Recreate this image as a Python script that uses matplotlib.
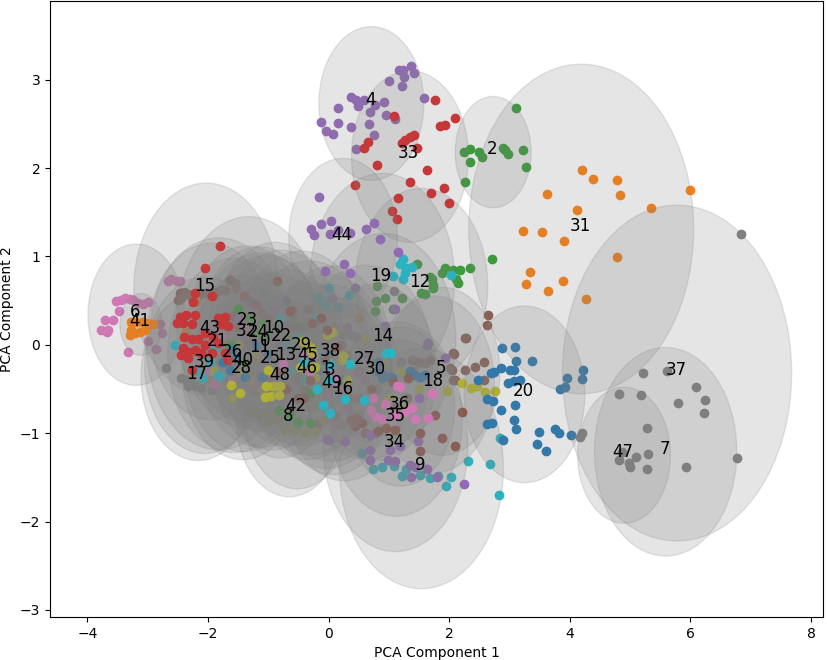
import matplotlib
matplotlib.use("Agg")
import matplotlib.pyplot as plt
from matplotlib.patches import Ellipse

# ---- cluster points (PCA component 1, PCA component 2) ----
P0 = [(-1.5,0.3),(-1.2,0.45),(-0.8,0.3),(-0.6,-0.1),(-1.3,-0.3),(-1.0,-0.2),(-0.9,0.1),(-1.4,0.0),(-0.7,0.25),(-1.1,-0.45)]
P1 = [(-0.5,0.1),(0.3,-0.1),(0.4,-0.6),(-0.3,-0.7),(0.1,0.2),(-0.2,-0.4),(0.2,-0.9),(-0.6,-0.3),(0.5,0.3),(0.0,-0.5)]
P2 = [(3.11,2.68),(2.24,2.18),(2.35,2.21),(2.49,2.18),(2.54,2.13),(2.35,2.07),(2.26,1.84),(2.90,2.23),(2.93,2.20),(2.97,2.16),(3.23,2.20),(3.27,2.01)]
P3 = [(-0.34,0.40),(-0.23,0.26),(0.3,-0.2),(0.5,-0.6),(-0.2,-0.9),(0.6,-1.0),(-0.1,-0.5),(0.2,0.0),(0.1,-0.8),(-0.5,-0.3)]
P4 = [(1.37,3.15),(1.16,3.11),(1.24,3.11),(1.42,3.07),(1.25,3.03),(1.00,2.98),(1.22,2.93),(1.58,2.79),(0.38,2.80),(0.46,2.77),(0.59,2.77),(0.92,2.75),(0.77,2.71),(0.48,2.70),(0.16,2.68),(0.69,2.63),(0.95,2.60),(1.11,2.56),(0.67,2.50),(0.16,2.51),(-0.12,2.52),(-0.05,2.42),(0.07,2.38),(0.37,2.46),(0.76,2.37),(0.45,2.22)]
P5 = [(2.07,-0.09),(2.26,0.08),(2.26,-0.28),(2.43,-0.25),(2.02,-0.26),(2.10,-0.40),(1.60,-0.21),(1.68,-0.17),(2.65,0.34),(2.63,0.22),(2.28,0.08),(1.38,-0.17),(1.49,-0.19),(2.08,-0.10),(2.57,-0.20),(2.04,-0.29),(2.07,-0.40),(2.57,-0.40),(1.30,-0.60),(1.10,-0.70)]
P6 = [(-2.67,0.72),(-2.61,0.74),(-2.52,0.72),(-2.47,0.72),(-3.53,0.49),(-3.45,0.51),(-3.38,0.53),(-3.30,0.52),(-3.25,0.51),(-3.16,0.47),(-3.08,0.46),(-3.00,0.48),(-3.48,0.38),(-3.71,0.28),(-3.57,0.28),(-3.77,0.17),(-3.68,0.15),(-3.66,0.17),(-3.32,-0.08),(-2.99,0.04),(-2.87,-0.05),(-2.76,0.13),(-2.79,0.23)]
P7 = [(5.28,-0.94),(5.30,-1.24),(5.28,-1.40),(5.93,-1.38),(6.78,-1.28),(4.99,-1.34)]
P8 = [(-1.28,-0.77),(-1.17,-0.79),(-0.95,-0.81),(-0.86,-0.85),(-0.75,-0.91),(-0.70,-0.96),(-0.56,-0.96),(-0.39,-1.00),(-0.23,-0.98),(-1.11,-0.76),(-1.00,-0.89),(-0.5,-0.6),(-0.2,-0.7),(-0.1,-0.85)]
P9 = [(0.55,-1.22),(0.74,-1.40),(0.88,-1.38),(1.09,-1.37),(1.21,-1.49),(1.29,-1.41),(1.52,-1.47),(1.68,-1.51),(1.82,-1.49),(1.95,-1.60),(2.03,-1.50),(2.32,-1.32),(2.68,-1.35),(2.82,-1.70),(2.84,-1.06)]
P10 = [(-1.3,0.5),(-0.7,0.5),(-0.5,0.2),(-1.2,0.1),(-0.9,-0.2),(-0.6,-0.1),(-1.1,0.35),(-0.8,0.0)]
P11 = [(-1.5,0.2),(-0.8,0.3),(-1.3,-0.4),(-0.7,-0.3),(-1.6,-0.2),(-1.0,0.1),(-1.2,-0.2),(-0.9,-0.1)]
P12 = [(1.88,0.81),(1.93,0.87),(2.07,0.85),(2.18,0.85),(2.34,0.87),(2.12,0.74),(2.15,0.70),(1.71,0.74),(1.74,0.68),(1.74,0.64),(1.54,0.59),(1.60,0.58),(1.46,0.91),(1.68,0.77),(2.71,0.97),(0.80,0.66),(0.93,0.53),(1.07,0.40),(0.78,0.49),(0.77,0.38),(1.21,0.53)]
P13 = [(-0.61,0.39),(-1.0,-0.4),(-0.4,-0.5),(-0.9,0.1),(-0.3,0.0),(-0.8,-0.6),(-0.5,-0.2),(-0.9,-0.1)]
P14 = [(0.93,0.21),(1.63,0.0),(1.65,0.02),(1.93,-0.15),(0.05,0.53),(0.44,0.64),(0.5,-0.3),(0.3,0.2),(1.2,-0.2),(0.6,-0.1),(1.1,0.4)]
P15 = [(-2.47,0.59),(-2.39,0.60),(-2.33,0.57),(-2.44,0.53),(-2.50,0.51),(-2.27,0.53),(-2.16,0.55),(-2.05,0.59),(-1.97,0.57),(-1.86,0.60),(-1.78,0.62),(-1.72,0.62),(-1.64,0.73),(-1.56,0.70),(-1.53,0.64)]
P16 = [(-0.02,-0.57),(0.08,-0.49),(0.49,-0.32),(0.74,-0.59),(-0.28,-0.14),(0.4,-0.8),(0.1,-0.9),(0.6,-0.4),(0.2,-0.5),(0.3,-0.7)]
P17 = [(-2.69,-0.26),(-2.44,-0.38),(-2.36,-0.40),(-2.27,-0.43),(-2.22,-0.47),(-2.11,-0.49),(-1.94,-0.51),(-2.33,-0.47),(-1.8,-0.2),(-2.0,-0.05),(-1.7,-0.4)]
P18 = [(1.96,-0.52),(2.21,-0.43),(2.37,-0.49),(2.46,-0.47),(2.59,-0.53),(2.76,-0.52),(0.58,0.06),(1.2,-0.3),(1.0,-0.6),(1.5,-0.5),(1.3,-0.7),(0.9,-0.2)]
P19 = [(1.24,0.97),(1.18,0.91),(1.29,0.87),(1.38,0.88),(1.27,0.81),(1.24,0.74),(1.07,0.78),(2.03,0.79),(0.00,0.64),(-0.17,0.53),(-0.06,0.45),(0.16,0.43),(0.34,0.56)]
P20 = [(2.87,-0.04),(3.09,-0.03),(3.11,-0.18),(3.37,-0.18),(2.69,-0.32),(2.75,-0.31),(2.86,-0.26),(3.01,-0.28),(3.07,-0.29),(2.98,-0.43),(3.07,-0.41),(3.18,-0.40),(2.62,-0.61),(2.73,-0.64),(2.86,-0.74),(3.09,-0.68),(3.08,-0.85),(3.11,-0.95),(2.62,-0.90),(2.71,-0.89),(2.90,-1.08),(3.49,-0.99),(3.46,-1.12),(3.61,-1.20),(3.76,-0.95),(3.82,-1.00),(4.02,-1.02),(3.84,-0.50),(3.92,-0.48),(3.95,-0.38),(4.22,-0.29),(4.20,-0.39),(2.48,-0.40)]
P21 = [(-2.36,0.14),(-2.2,0.5),(-1.5,0.3),(-1.3,-0.3),(-2.0,-0.4),(-1.6,0.0),(-2.3,-0.1),(-1.4,0.1)]
P22 = [(-1.00,0.21),(-0.89,0.19),(-0.6,0.3),(-0.5,-0.1),(-0.9,-0.2),(-0.7,0.1),(-0.4,0.2),(-1.1,-0.1)]
P23 = [(-1.39,0.30),(-1.42,0.19),(-1.50,0.21),(-1.58,0.33),(-1.2,0.45),(-1.1,0.2),(-1.3,0.0),(-1.0,0.3),(-1.4,0.55),(-1.3,0.05)]
P24 = [(-1.5,0.3),(-0.9,0.4),(-1.3,-0.1),(-0.8,0.0),(-1.2,0.2),(-1.0,-0.2),(-1.4,0.1),(-1.1,0.2)]
P25 = [(-1.3,0.1),(-0.6,0.2),(-1.2,-0.5),(-0.5,-0.4),(-1.0,-0.1),(-0.8,-0.3),(-1.1,0.0),(-1.0,-0.5),(-1.11,0.36),(-0.86,0.72)]
P26 = [(-1.22,-0.47),(-1.9,-0.44),(-1.8,0.1),(-2.0,-0.3),(-1.4,0.2),(-1.6,-0.4),(-1.5,0.0),(-1.1,-0.1)]
P27 = [(0.24,0.11),(0.38,0.11),(0.46,0.09),(1.08,0.61),(1.2,-0.2),(1.4,-0.3),(0.2,-0.6),(0.5,-0.8),(0.8,-0.5),(-0.1,-0.5),(0.7,-0.2)]
P28 = [(-1.9,-0.3),(-1.2,-0.1),(-1.5,0.0),(-1.3,-0.4),(-1.45,-0.32),(-1.6,-0.6),(-1.1,-0.5)]
P29 = [(-0.8,0.3),(-0.2,0.3),(-0.6,-0.3),(-0.1,-0.2),(-0.5,0.1),(-0.4,-0.4),(-0.7,0.0),(-0.2,-0.1)]
P30 = [(1.35,-0.30),(1.41,-0.34),(1.60,-0.34),(0.88,-0.38),(1.05,-0.38),(0.80,-0.30),(0.91,-0.34),(1.02,-0.37),(1.52,-0.36),(0.82,-0.20),(0.0,-0.1),(0.2,-0.4),(-0.2,-0.3),(0.3,-0.2)]
P31 = [(4.20,1.98),(4.39,1.88),(4.79,1.86),(4.83,1.69),(6.00,1.75),(5.35,1.55),(3.62,1.71),(4.12,1.52),(3.22,1.29),(3.54,1.28),(3.91,1.17),(4.79,0.99),(3.34,0.82),(3.27,0.69),(3.64,0.61),(3.89,0.72),(4.27,0.52)]
P32 = [(-1.11,0.25),(-1.17,0.15),(-1.06,0.09),(-1.5,0.4),(-1.6,0.0),(-1.4,-0.2),(-1.3,0.3),(-1.65,0.0)]
P33 = [(1.76,2.77),(2.10,2.57),(1.85,2.47),(1.93,2.49),(1.08,2.59),(1.42,2.37),(1.35,2.35),(1.27,2.32),(1.21,2.28),(1.46,2.23),(0.65,2.30),(0.59,2.23),(0.81,2.03),(1.64,1.98),(0.44,1.81),(1.35,1.84),(1.70,1.72),(1.91,1.77),(2.00,1.60),(1.15,1.66),(1.05,1.51),(1.13,1.42)]
P34 = [(0.00,-1.08),(0.27,-1.09),(0.69,-1.02),(0.77,-1.00),(0.69,-1.19),(0.69,-1.30),(0.99,-1.30),(1.10,-1.32),(1.02,-1.19),(1.18,-1.15),(1.49,-1.09),(1.35,-1.36),(1.43,-1.38),(1.63,-1.40),(1.79,-1.50),(1.36,-1.50),(2.24,-1.57),(1.50,-0.60),(-0.03,-1.07)]
P35 = [(0.46,-0.83),(0.44,-0.92),(0.82,-0.98),(0.96,-0.94),(1.10,-0.96),(1.52,-1.00),(1.52,-1.20),(1.88,-1.06),(2.10,-1.15),(2.21,-0.76),(1.76,-0.79),(1.32,-0.38),(1.07,-0.42),(0.38,-0.85),(0.55,-0.89),(0.3,-0.6),(0.7,-0.5)]
P36 = [(1.18,-0.48),(0.74,-0.60),(0.93,-0.67),(0.71,-0.74),(0.77,-0.81),(0.88,-0.84),(1.10,-0.79),(1.27,-0.76),(1.38,-0.72),(1.43,-0.84),(1.65,-0.83),(1.71,-0.56),(1.13,-0.47),(1.71,-0.55)]
P37 = [(6.84,1.25),(5.22,-0.32),(5.61,-0.30),(6.10,-0.48),(6.25,-0.63),(6.22,-0.77),(5.80,-0.66),(5.18,-0.57),(4.82,-0.56)]
P38 = [(0.02,0.13),(0.05,0.15),(-0.03,0.11),(0.24,-0.13),(0.22,-0.17),(-0.23,-0.36),(-0.3,-0.1),(0.3,-0.4),(0.0,-0.2)]
P39 = [(-2.55,0.0),(-2.08,-0.38),(-1.97,-0.19),(-1.83,-0.34),(-2.2,-0.3),(-1.9,-0.05),(-1.8,-0.35)]
P40 = [(-1.75,-0.19),(-1.64,-0.28),(-1.53,-0.15),(-1.39,-0.36),(-1.11,-0.36),(-1.2,0.0),(-1.0,-0.1),(-1.6,-0.05)]
P41 = [(-3.27,0.26),(-3.19,0.26),(-3.08,0.26),(-2.99,0.25),(-2.91,0.23),(-3.28,0.17),(-3.21,0.13),(-3.13,0.15),(-3.05,0.17),(-3.30,0.11)]
P42 = [(-0.83,-0.74),(-0.64,-0.79),(-0.50,-0.87),(-0.31,-0.88),(-0.31,-0.55),(-0.5,-0.6)]
P43 = [(-2.22,0.59),(-1.94,0.55),(-2.25,0.48),(-2.47,0.32),(-2.36,0.34),(-2.22,0.34),(-2.52,0.25),(-2.41,0.25),(-2.27,0.23),(-1.83,0.30),(-1.72,0.32),(-1.78,0.23),(-1.67,0.21),(-2.39,0.09),(-2.27,0.06),(-2.16,0.06),(-2.05,0.13),(-1.91,0.09),(-1.83,0.02),(-2.05,0.00),(-2.41,-0.04),(-2.33,-0.08),(-2.22,-0.06),(-2.11,-0.09),(-1.94,-0.09),(-1.72,-0.09),(-1.67,-0.17),(-2.27,-0.28),(-2.33,-0.15),(-2.44,-0.11),(-1.80,1.12),(-2.05,0.87)]
P44 = [(-0.16,1.67),(-0.12,1.37),(0.04,1.40),(-0.29,1.31),(-0.24,1.24),(0.02,1.25),(0.16,1.30),(0.35,1.26),(0.62,1.31),(0.75,1.38),(0.85,1.20),(1.15,1.05),(-0.06,0.84),(0.25,0.91),(0.35,0.81)]
P45 = [(-0.64,0.38),(-0.28,0.25),(-0.12,0.30),(-0.03,0.17),(0.13,-0.02),(-0.06,-0.17),(-0.7,-0.5),(-0.5,-0.6),(-0.3,-0.4),(-0.8,-0.3),(-0.4,-0.6)]
P46 = [(-0.75,-0.22),(-0.89,-0.47),(-0.25,-0.11),(-0.42,-0.13),(0.1,-0.4),(-0.2,-0.5),(-0.3,-0.3),(0.0,-0.3)]
P47 = [(4.20,-1.00),(4.17,-1.04),(4.86,-1.21),(5.10,-1.27),(5.00,-1.38),(4.82,-1.30)]
P48 = [(-1.00,-0.28),(-1.03,-0.47),(-1.06,-0.59),(-0.95,-0.58),(-0.83,-0.57),(-0.81,-0.47),(-0.92,-0.47),(-0.42,0.04),(-0.37,0.02),(-0.31,-0.02),(-0.28,-0.08),(-0.48,-0.25),(-0.28,-0.25),(-0.23,-0.25),(-1.61,-0.45),(-1.47,-0.55)]
P49 = [(0.35,-0.22),(0.02,-0.23),(0.00,-0.40),(0.27,-0.61),(0.58,-0.63),(-0.09,-0.68),(0.02,-0.77),(-0.4,-0.2),(-0.2,-0.5),(0.96,-0.09),(1.02,-0.09)]

clusters = [P0, P1, P2, P3, P4, P5, P6, P7, P8, P9, P10, P11, P12, P13, P14, P15, P16, P17,
            P18, P19, P20, P21, P22, P23, P24, P25, P26, P27, P28, P29, P30, P31, P32, P33,
            P34, P35, P36, P37, P38, P39, P40, P41, P42, P43, P44, P45, P46, P47, P48, P49]

# ---- cluster centres and circle radii (data units) ----
center_x = [-1.04, -0.04, 2.73, 0.04, 0.71, 1.89, -3.19, 5.59, -0.65, 1.54,
            -0.89, -1.12, 1.54, -0.69, 0.91, -2.03, 0.26, -2.16, 1.75, 0.89,
            3.25, -1.82, -0.77, -1.32, -1.15, -0.94, -1.57, 0.62, -1.43, -0.44,
            0.79, 4.19, -1.35, 1.35, 1.11, 1.12, 1.19, 5.78, 0.04, -2.05,
            -1.40, -3.11, -0.52, -1.95, 0.24, -0.32, -0.34, 4.90, -0.79, 0.08]
center_y = [0.01, -0.30, 2.18, -0.32, 2.73, -0.30, 0.34, -1.21, -0.84, -1.40,
            0.16, -0.06, 0.67, -0.15, 0.06, 0.63, -0.54, -0.36, -0.45, 0.74,
            -0.56, 0.01, 0.07, 0.25, 0.11, -0.19, -0.12, -0.20, -0.30, -0.04,
            -0.31, 1.31, 0.12, 2.13, -1.14, -0.84, -0.70, -0.32, -0.11, -0.23,
            -0.21, 0.23, -0.73, 0.15, 1.21, -0.15, -0.30, -1.25, -0.38, -0.47]
radius = [1.0, 1.1, 0.63, 1.0, 0.87, 0.95, 0.80, 1.18, 0.88, 1.36,
          1.0, 1.1, 1.1, 1.0, 1.2, 1.2, 1.0, 0.95, 1.0, 1.2,
          1.0, 1.2, 1.0, 1.2, 1.0, 1.0, 1.1, 1.1, 1.0, 1.1,
          1.0, 1.865, 1.0, 0.97, 1.2, 1.1, 0.9, 1.9, 1.0, 1.0,
          1.0, 0.35, 0.9, 1.0, 0.9, 1.1, 1.0, 0.77, 0.9, 1.0]
labels = [str(i) for i in range(50)]

fig = plt.figure(figsize=(8.27, 6.6), dpi=100)
ax = fig.add_axes([50/827, 43/660, 773/827, 616/660])

for i, pts in enumerate(clusters):
    xs = [p[0] for p in pts]
    ys = [p[1] for p in pts]
    ax.scatter(xs, ys, color=f"C{i % 10}", s=36)
    ax.add_patch(Ellipse((center_x[i], center_y[i]), 2 * radius[i], 2 * radius[i],
                         color="gray", alpha=0.2))
    ax.text(center_x[i] - 0.02, center_y[i] + 0.035, labels[i], fontsize=12,
            ha="center", va="center")

ax.set_xlim(-4.62, 8.2)
ax.set_ylim(-3.08, 3.89)
ax.set_xlabel("PCA Component 1")
ax.set_ylabel("PCA Component 2")

fig.savefig("out.png", dpi=100)
